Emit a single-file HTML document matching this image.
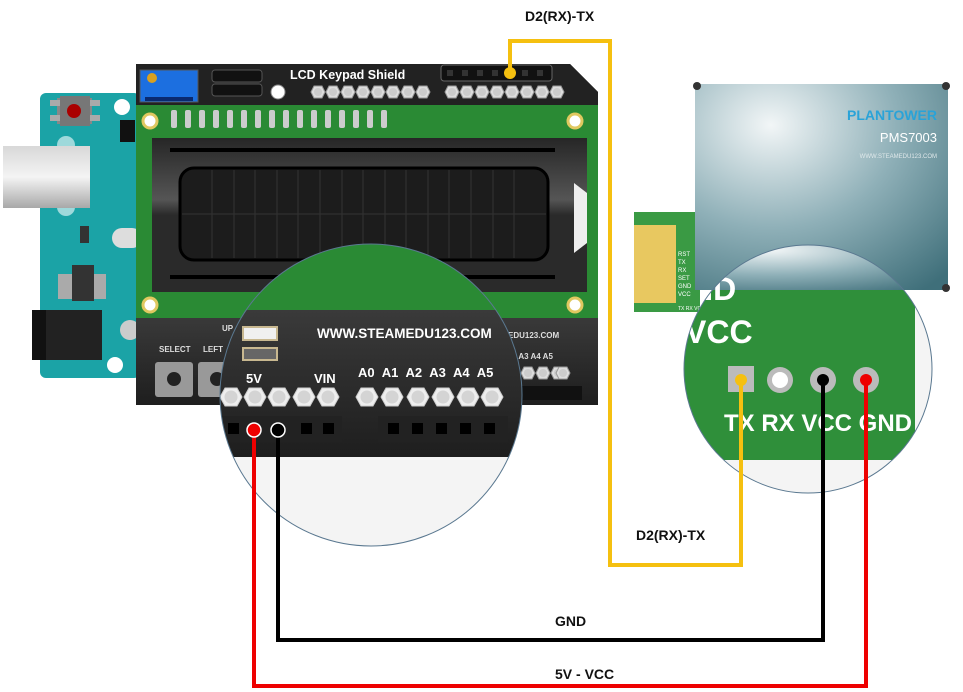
<!DOCTYPE html>
<html><head><meta charset="utf-8"><style>
html,body{margin:0;padding:0;background:#fff;}
svg{display:block;font-family:"Liberation Sans",sans-serif;}
</style></head><body>
<svg width="963" height="692" viewBox="0 0 963 692" xmlns="http://www.w3.org/2000/svg">
<defs>
<linearGradient id="usb" x1="0" y1="0" x2="0" y2="1"><stop offset="0" stop-color="#d8d8d8"/><stop offset=".5" stop-color="#f4f4f4"/><stop offset="1" stop-color="#a8a8a8"/></linearGradient>
<radialGradient id="sens" cx=".3" cy=".2" r="1"><stop offset="0" stop-color="#f2f6f7"/><stop offset=".5" stop-color="#8fb0b8"/><stop offset="1" stop-color="#3f6f7a"/></radialGradient>
<linearGradient id="lcd" x1="0" y1="0" x2="0" y2="1"><stop offset="0" stop-color="#262626"/><stop offset=".4" stop-color="#555"/><stop offset=".5" stop-color="#2a2a2a"/><stop offset="1" stop-color="#2a2a2a"/></linearGradient>
<linearGradient id="dark" x1="0" y1="0" x2="0" y2="1"><stop offset="0" stop-color="#3a3a3a"/><stop offset="1" stop-color="#1e1e1e"/></linearGradient>
<clipPath id="c1"><circle cx="371" cy="395" r="151"/></clipPath>
<clipPath id="c2"><circle cx="808" cy="369" r="124"/></clipPath>
<g id="hex"><polygon points="-11,0 -6,-9 6,-9 11,0 6,9 -6,9" fill="#eee" stroke="#ccc" stroke-width="1"/><circle r="6.5" fill="#d4d4d4"/></g>
<g id="hexs"><polygon points="-7,0 -4,-6 4,-6 7,0 4,6 -4,6" fill="#ddd" stroke="#999" stroke-width="1"/><circle r="4" fill="#ccc"/></g>
</defs>

<!-- Arduino -->
<rect x="40" y="93" width="100" height="285" rx="6" fill="#1ba3a6"/>
<rect x="57" y="98" width="35" height="26" fill="#888"/><rect x="50" y="100" width="50" height="6" fill="#aaa"/><rect x="50" y="115" width="50" height="6" fill="#aaa"/>
<rect x="60" y="96" width="30" height="30" fill="#777"/><circle cx="74" cy="111" r="7" fill="#a00"/>
<circle cx="122" cy="107" r="8" fill="#fff"/>
<rect x="120" y="120" width="15" height="22" fill="#111"/>
<circle cx="66" cy="145" r="9" fill="#9ed9db"/><circle cx="66" cy="207" r="9" fill="#9ed9db"/>
<rect x="3" y="146" width="87" height="62" fill="url(#usb)"/>
<rect x="80" y="226" width="9" height="17" fill="#333"/>
<rect x="112" y="228" width="30" height="20" rx="10" fill="#ddd"/>
<rect x="58" y="274" width="48" height="25" fill="#aaa"/><rect x="72" y="265" width="22" height="36" fill="#333"/>
<rect x="32" y="310" width="70" height="50" fill="#222"/><rect x="32" y="310" width="14" height="50" fill="#111"/>
<circle cx="115" cy="365" r="8" fill="#fff"/>
<circle cx="130" cy="330" r="10" fill="#ccc"/>

<!-- Shield -->
<polygon points="136,64 570,64 598,92 598,365 590,372 590,405 136,405" fill="#1f1f1f"/>
<rect x="136" y="316" width="462" height="89" fill="url(#dark)"/>
<polygon points="136,64 570,64 598,92 598,105 136,105" fill="#222"/>
<rect x="140" y="70" width="58" height="32" fill="#1c6fe0" stroke="#555"/><circle cx="152" cy="78" r="5" fill="#d8a020"/><rect x="145" y="97" width="48" height="4" fill="#0a2a70"/>
<rect x="212" y="70" width="50" height="12" rx="3" fill="#111" stroke="#555"/><rect x="212" y="84" width="50" height="12" rx="3" fill="#111" stroke="#555"/>
<circle cx="278" cy="92" r="7" fill="#fff" stroke="#888"/>
<text x="290" y="79" font-size="12.5" font-weight="bold" fill="#fff">LCD Keypad Shield</text>
<g><use href="#hexs" x="318" y="92"/><use href="#hexs" x="333" y="92"/><use href="#hexs" x="348" y="92"/><use href="#hexs" x="363" y="92"/><use href="#hexs" x="378" y="92"/><use href="#hexs" x="393" y="92"/><use href="#hexs" x="408" y="92"/><use href="#hexs" x="423" y="92"/>
<use href="#hexs" x="452" y="92"/><use href="#hexs" x="467" y="92"/><use href="#hexs" x="482" y="92"/><use href="#hexs" x="497" y="92"/><use href="#hexs" x="512" y="92"/><use href="#hexs" x="527" y="92"/><use href="#hexs" x="542" y="92"/><use href="#hexs" x="557" y="92"/></g>
<rect x="441" y="65" width="111" height="16" rx="3" fill="#111" stroke="#666"/>
<g fill="#333"><rect x="447" y="70" width="6" height="6"/><rect x="462" y="70" width="6" height="6"/><rect x="477" y="70" width="6" height="6"/><rect x="492" y="70" width="6" height="6"/><rect x="522" y="70" width="6" height="6"/><rect x="537" y="70" width="6" height="6"/></g>

<rect x="136" y="105" width="462" height="213" fill="#2a8a34"/>
<g fill="#ccc"><rect x="171" y="110" width="6" height="18" rx="2"/><rect x="185" y="110" width="6" height="18" rx="2"/><rect x="199" y="110" width="6" height="18" rx="2"/><rect x="213" y="110" width="6" height="18" rx="2"/><rect x="227" y="110" width="6" height="18" rx="2"/><rect x="241" y="110" width="6" height="18" rx="2"/><rect x="255" y="110" width="6" height="18" rx="2"/><rect x="269" y="110" width="6" height="18" rx="2"/><rect x="283" y="110" width="6" height="18" rx="2"/><rect x="297" y="110" width="6" height="18" rx="2"/><rect x="311" y="110" width="6" height="18" rx="2"/><rect x="325" y="110" width="6" height="18" rx="2"/><rect x="339" y="110" width="6" height="18" rx="2"/><rect x="353" y="110" width="6" height="18" rx="2"/><rect x="367" y="110" width="6" height="18" rx="2"/><rect x="381" y="110" width="6" height="18" rx="2"/></g>
<g fill="#fff" stroke="#e0c860" stroke-width="3"><circle cx="150" cy="121" r="7"/><circle cx="575" cy="121" r="7"/><circle cx="150" cy="305" r="7"/><circle cx="575" cy="305" r="7"/></g>
<rect x="152" y="138" width="435" height="154" fill="url(#lcd)"/>
<polygon points="574,183 587,193 587,243 574,253" fill="#eee"/>
<rect x="170" y="148" width="385" height="4" fill="#000"/><rect x="170" y="275" width="385" height="4" fill="#000"/>
<rect x="180" y="168" width="368" height="92" rx="14" fill="#1c1c1c" stroke="#000" stroke-width="3"/>
<g stroke="#333" stroke-width="1">
<line x1="182" y1="214" x2="546" y2="214"/>
<line x1="212" y1="170" x2="212" y2="258"/><line x1="234" y1="170" x2="234" y2="258"/><line x1="255" y1="170" x2="255" y2="258"/><line x1="277" y1="170" x2="277" y2="258"/><line x1="298" y1="170" x2="298" y2="258"/><line x1="320" y1="170" x2="320" y2="258"/><line x1="342" y1="170" x2="342" y2="258"/><line x1="363" y1="170" x2="363" y2="258"/><line x1="385" y1="170" x2="385" y2="258"/><line x1="406" y1="170" x2="406" y2="258"/><line x1="428" y1="170" x2="428" y2="258"/><line x1="449" y1="170" x2="449" y2="258"/><line x1="471" y1="170" x2="471" y2="258"/><line x1="493" y1="170" x2="493" y2="258"/><line x1="514" y1="170" x2="514" y2="258"/></g>

<text x="159" y="352" font-size="8" font-weight="bold" fill="#ddd">SELECT</text>
<text x="203" y="352" font-size="8" font-weight="bold" fill="#ddd">LEFT</text>
<text x="222" y="331" font-size="8" font-weight="bold" fill="#ddd">UP</text>
<rect x="155" y="362" width="38" height="35" rx="3" fill="#999"/><circle cx="174" cy="379" r="7" fill="#222"/>
<rect x="198" y="362" width="38" height="35" rx="3" fill="#999"/><circle cx="217" cy="379" r="7" fill="#222"/>
<text x="508" y="338" font-size="8" font-weight="bold" fill="#ddd">EDU123.COM</text>
<text x="512" y="359" font-size="8" font-weight="bold" fill="#ddd">2 A3 A4 A5</text>
<use href="#hexs" x="528" y="373"/><use href="#hexs" x="543" y="373"/><use href="#hexs" x="558" y="373"/><use href="#hexs" x="563" y="373"/>
<rect x="520" y="386" width="62" height="14" fill="#111"/>

<!-- left magnifier -->
<g clip-path="url(#c1)">
<rect x="200" y="240" width="340" height="320" fill="#f4f4f4"/>
<rect x="200" y="240" width="340" height="72" fill="#2a8a34"/>
<rect x="200" y="310" width="340" height="147" fill="url(#dark)"/>
<rect x="243" y="327" width="34" height="13" fill="#f0f0f0" stroke="#c8b890" stroke-width="2"/>
<rect x="243" y="348" width="34" height="12" fill="#666" stroke="#c8b890" stroke-width="2"/>
<text x="317" y="338" font-size="13.5" font-weight="bold" fill="#fff">WWW.STEAMEDU123.COM</text>
<text x="246" y="383" font-size="13" font-weight="bold" fill="#fff">5V</text>
<text x="314" y="383" font-size="13" font-weight="bold" fill="#fff">VIN</text>
<text x="358" y="377" font-size="13" font-weight="bold" fill="#fff" word-spacing="4">A0 A1 A2 A3 A4 A5</text>
<use href="#hex" x="231" y="397"/><use href="#hex" x="255" y="397"/><use href="#hex" x="279" y="397"/><use href="#hex" x="304" y="397"/><use href="#hex" x="328" y="397"/>
<use href="#hex" x="367" y="397"/><use href="#hex" x="392" y="397"/><use href="#hex" x="418" y="397"/><use href="#hex" x="443" y="397"/><use href="#hex" x="468" y="397"/><use href="#hex" x="492" y="397"/>
<rect x="222" y="416" width="120" height="26" fill="#222"/>
<rect x="378" y="416" width="130" height="26" fill="#222"/>
<g fill="#000"><rect x="228" y="423" width="11" height="11"/><rect x="301" y="423" width="11" height="11"/><rect x="323" y="423" width="11" height="11"/><rect x="388" y="423" width="11" height="11"/><rect x="412" y="423" width="11" height="11"/><rect x="436" y="423" width="11" height="11"/><rect x="460" y="423" width="11" height="11"/><rect x="484" y="423" width="11" height="11"/></g>
</g>
<circle cx="371" cy="395" r="151" fill="none" stroke="#5a7890" stroke-width="1"/>

<!-- sensor -->
<rect x="634" y="212" width="66" height="100" fill="#3a9a44"/>
<rect x="634" y="225" width="42" height="78" fill="#e8c860"/>
<rect x="695" y="84" width="253" height="206" fill="url(#sens)"/>
<g fill="#333"><circle cx="697" cy="86" r="4"/><circle cx="946" cy="86" r="4"/><circle cx="946" cy="288" r="4"/></g>
<text x="937" y="120" font-size="14" font-weight="bold" fill="#29a3d8" text-anchor="end">PLANTOWER</text>
<text x="937" y="142" font-size="13" fill="#fff" text-anchor="end">PMS7003</text>
<text x="937" y="158" font-size="6" fill="#dfe8ea" text-anchor="end">WWW.STEAMEDU123.COM</text>
<text x="678" y="256" font-size="6" fill="#fff">RST</text>
<text x="678" y="264" font-size="6" fill="#fff">TX</text>
<text x="678" y="272" font-size="6" fill="#fff">RX</text>
<text x="678" y="280" font-size="6" fill="#fff">SET</text>
<text x="678" y="288" font-size="6" fill="#fff">GND</text>
<text x="678" y="296" font-size="6" fill="#fff">VCC</text>
<text x="678" y="310" font-size="5" fill="#fff">TX RX VC</text>

<!-- right magnifier -->
<g clip-path="url(#c2)">
<rect x="680" y="240" width="260" height="260" fill="#f4f4f4"/>
<rect x="680" y="260" width="235" height="200" rx="8" fill="#2f8f3a"/>
<rect x="695" y="240" width="253" height="50" fill="url(#sens)"/>
<rect x="680" y="240" width="20" height="60" fill="#2f8f3a"/>
<text x="690" y="300" font-size="32" font-weight="bold" fill="#fff">ND</text>
<text x="685" y="343" font-size="32" font-weight="bold" fill="#fff">VCC</text>
<rect x="728" y="366" width="26" height="26" fill="#bbb"/>
<circle cx="780" cy="380" r="13" fill="#bbb"/><circle cx="780" cy="380" r="8" fill="#fff"/>
<circle cx="823" cy="380" r="13" fill="#bbb"/><circle cx="866" cy="380" r="13" fill="#bbb"/>
<text x="724" y="431" font-size="24" font-weight="bold" fill="#fff">TX RX VCC GND</text>
</g>
<circle cx="808" cy="369" r="124" fill="none" stroke="#5a7890" stroke-width="1"/>

<!-- wires -->
<g fill="none" stroke-width="4" stroke-linejoin="miter">
<polyline points="510,73 510,41 610,41 610,565 741,565 741,380" stroke="#f5c010"/>
<polyline points="278,430 278,640 823,640 823,380" stroke="#000"/>
<polyline points="254,430 254,686 866,686 866,380" stroke="#e00"/>
</g>
<circle cx="510" cy="73" r="6" fill="#f5c010"/>
<circle cx="741" cy="380" r="6" fill="#f5c010"/>
<circle cx="823" cy="380" r="6" fill="#000"/>
<circle cx="866" cy="380" r="6" fill="#e00"/>
<circle cx="254" cy="430" r="7" fill="#e00" stroke="#fff" stroke-width="1.5"/>
<circle cx="278" cy="430" r="7" fill="#000" stroke="#fff" stroke-width="1.5"/>

<g font-size="14" font-weight="bold" fill="#111">
<text x="525" y="21">D2(RX)-TX</text>
<text x="636" y="540">D2(RX)-TX</text>
<text x="555" y="626">GND</text>
<text x="555" y="679">5V - VCC</text>
</g>
</svg>
</body></html>
